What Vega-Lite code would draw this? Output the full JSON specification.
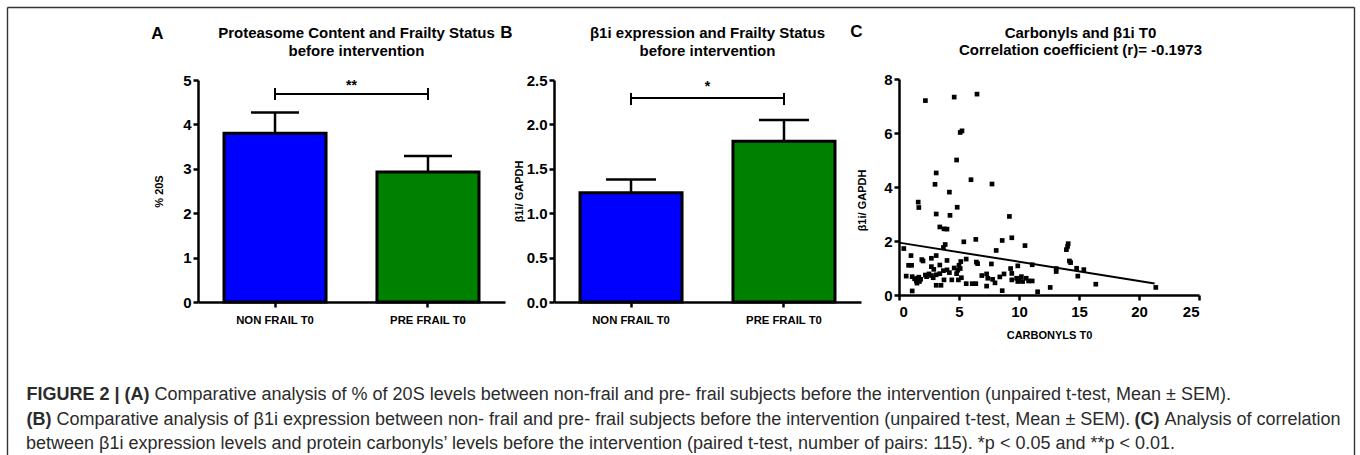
{
  "$schema": "https://vega.github.io/schema/vega-lite/v6.json",
  "width": 1360,
  "height": 455,
  "autosize": "none",
  "padding": 0,
  "background": "white",
  "config": {
    "view": {"stroke": null},
    "font": "Liberation Sans",
    "axis": {
      "grid": false,
      "domainColor": "black",
      "domainWidth": 2.5,
      "tickColor": "black",
      "tickWidth": 2.5,
      "tickSize": 5,
      "labelColor": "black",
      "labelFont": "Liberation Sans",
      "labelFontSize": 15,
      "labelFontWeight": "bold",
      "labelPadding": 2,
      "titleFont": "Liberation Sans",
      "titleColor": "black",
      "titleFontWeight": "bold",
      "titleFontSize": 11
    }
  },
  "title": {
    "text": "between β1i expression levels and protein carbonyls’ levels before the intervention (paired t-test, number of pairs: 115). *p < 0.05 and **p < 0.01.",
    "orient": "bottom",
    "anchor": "start",
    "frame": "group",
    "offset": -24,
    "dx": 26,
    "font": "Liberation Sans",
    "fontSize": 18,
    "fontWeight": "normal",
    "color": "#2b2b2b",
    "baseline": "top"
  },
  "datasets": {
    "frame": [{"v": 0}, {"v": 1}],
    "barsA": [
      {"group": "NON FRAIL T0", "mean": 3.8, "upper": 4.27},
      {"group": "PRE FRAIL T0", "mean": 2.93, "upper": 3.29}
    ],
    "barsB": [
      {"group": "NON FRAIL T0", "mean": 1.23, "upper": 1.38},
      {"group": "PRE FRAIL T0", "mean": 1.81, "upper": 2.05}
    ],
    "brA": [{"g1": "NON FRAIL T0", "g2": "PRE FRAIL T0", "y": 4.685, "lo": 4.55, "hi": 4.82, "star": "**", "sy": 4.78}],
    "brB": [{"g1": "NON FRAIL T0", "g2": "PRE FRAIL T0", "y": 2.297, "lo": 2.218, "hi": 2.354, "star": "*", "sy": 2.373}],
    "fit": [{"carbonyls": 0, "b1i": 1.94}, {"carbonyls": 21.3, "b1i": 0.43}],
    "scatter": [
      {"carbonyls": 2.2, "b1i": 7.2}, {"carbonyls": 4.6, "b1i": 7.33}, {"carbonyls": 6.5, "b1i": 7.44},
      {"carbonyls": 5.1, "b1i": 6.02}, {"carbonyls": 5.25, "b1i": 6.08}, {"carbonyls": 4.8, "b1i": 5.0},
      {"carbonyls": 3.1, "b1i": 4.52}, {"carbonyls": 3.0, "b1i": 4.1}, {"carbonyls": 6.0, "b1i": 4.27},
      {"carbonyls": 7.75, "b1i": 4.11}, {"carbonyls": 4.2, "b1i": 3.81}, {"carbonyls": 1.6, "b1i": 3.44},
      {"carbonyls": 1.65, "b1i": 3.24}, {"carbonyls": 4.85, "b1i": 3.25}, {"carbonyls": 3.1, "b1i": 3.0},
      {"carbonyls": 4.25, "b1i": 2.95}, {"carbonyls": 9.2, "b1i": 2.91}, {"carbonyls": 3.4, "b1i": 2.52},
      {"carbonyls": 3.75, "b1i": 2.45}, {"carbonyls": 4.0, "b1i": 2.44}, {"carbonyls": 9.4, "b1i": 2.12},
      {"carbonyls": 6.4, "b1i": 2.06}, {"carbonyls": 5.4, "b1i": 1.97}, {"carbonyls": 8.6, "b1i": 2.02},
      {"carbonyls": 10.5, "b1i": 1.83}, {"carbonyls": 0.4, "b1i": 1.72}, {"carbonyls": 3.85, "b1i": 1.87},
      {"carbonyls": 3.7, "b1i": 1.76}, {"carbonyls": 8.1, "b1i": 1.65}, {"carbonyls": 14.1, "b1i": 1.9},
      {"carbonyls": 14.05, "b1i": 1.8}, {"carbonyls": 13.95, "b1i": 1.68},
      {"carbonyls": 1.0, "b1i": 1.46}, {"carbonyls": 3.1, "b1i": 1.46}, {"carbonyls": 2.7, "b1i": 1.36},
      {"carbonyls": 2.0, "b1i": 1.26}, {"carbonyls": 1.9, "b1i": 1.31}, {"carbonyls": 0.8, "b1i": 1.1},
      {"carbonyls": 1.05, "b1i": 1.1}, {"carbonyls": 4.0, "b1i": 1.28}, {"carbonyls": 5.15, "b1i": 1.24},
      {"carbonyls": 5.6, "b1i": 1.33}, {"carbonyls": 6.45, "b1i": 1.22}, {"carbonyls": 6.55, "b1i": 1.16},
      {"carbonyls": 7.7, "b1i": 1.15}, {"carbonyls": 14.2, "b1i": 1.26}, {"carbonyls": 14.3, "b1i": 1.2},
      {"carbonyls": 11.1, "b1i": 1.12}, {"carbonyls": 9.9, "b1i": 1.08}, {"carbonyls": 9.3, "b1i": 0.98},
      {"carbonyls": 13.1, "b1i": 0.98}, {"carbonyls": 13.1, "b1i": 0.87}, {"carbonyls": 14.8, "b1i": 0.99},
      {"carbonyls": 15.4, "b1i": 0.94}, {"carbonyls": 2.7, "b1i": 1.05}, {"carbonyls": 3.4, "b1i": 1.11},
      {"carbonyls": 5.0, "b1i": 1.1}, {"carbonyls": 5.1, "b1i": 0.98}, {"carbonyls": 4.9, "b1i": 0.92},
      {"carbonyls": 3.7, "b1i": 0.9}, {"carbonyls": 4.0, "b1i": 0.93}, {"carbonyls": 2.9, "b1i": 0.95},
      {"carbonyls": 14.9, "b1i": 0.7}, {"carbonyls": 0.6, "b1i": 0.7}, {"carbonyls": 1.1, "b1i": 0.68},
      {"carbonyls": 1.3, "b1i": 0.6}, {"carbonyls": 1.45, "b1i": 0.52}, {"carbonyls": 1.55, "b1i": 0.62},
      {"carbonyls": 1.65, "b1i": 0.66}, {"carbonyls": 1.5, "b1i": 0.44}, {"carbonyls": 1.7, "b1i": 0.5},
      {"carbonyls": 1.8, "b1i": 0.58}, {"carbonyls": 2.3, "b1i": 0.68}, {"carbonyls": 2.7, "b1i": 0.72},
      {"carbonyls": 2.85, "b1i": 0.64}, {"carbonyls": 3.1, "b1i": 0.75}, {"carbonyls": 3.4, "b1i": 0.79},
      {"carbonyls": 4.2, "b1i": 0.83}, {"carbonyls": 3.75, "b1i": 0.56}, {"carbonyls": 4.4, "b1i": 0.56},
      {"carbonyls": 3.1, "b1i": 0.36}, {"carbonyls": 3.5, "b1i": 0.36}, {"carbonyls": 4.8, "b1i": 0.79},
      {"carbonyls": 5.2, "b1i": 0.64}, {"carbonyls": 4.95, "b1i": 0.56}, {"carbonyls": 5.6, "b1i": 0.42},
      {"carbonyls": 6.1, "b1i": 0.42}, {"carbonyls": 6.4, "b1i": 0.42}, {"carbonyls": 7.3, "b1i": 0.78},
      {"carbonyls": 7.4, "b1i": 0.62}, {"carbonyls": 7.3, "b1i": 0.33}, {"carbonyls": 1.1, "b1i": 0.15},
      {"carbonyls": 8.75, "b1i": 0.78}, {"carbonyls": 9.4, "b1i": 0.8}, {"carbonyls": 8.4, "b1i": 0.67},
      {"carbonyls": 9.8, "b1i": 0.62}, {"carbonyls": 10.0, "b1i": 0.55}, {"carbonyls": 10.3, "b1i": 0.5},
      {"carbonyls": 10.6, "b1i": 0.62}, {"carbonyls": 10.8, "b1i": 0.52}, {"carbonyls": 10.2, "b1i": 0.68},
      {"carbonyls": 9.9, "b1i": 0.5}, {"carbonyls": 9.4, "b1i": 0.56}, {"carbonyls": 11.1, "b1i": 0.52},
      {"carbonyls": 16.4, "b1i": 0.4}, {"carbonyls": 12.6, "b1i": 0.28}, {"carbonyls": 11.55, "b1i": 0.12},
      {"carbonyls": 8.6, "b1i": 0.16}, {"carbonyls": 21.4, "b1i": 0.28}, {"carbonyls": 7.8, "b1i": 0.58},
      {"carbonyls": 8.0, "b1i": 0.45}, {"carbonyls": 6.9, "b1i": 0.72}, {"carbonyls": 2.2, "b1i": 0.74},
      {"carbonyls": 2.5, "b1i": 0.78}, {"carbonyls": 4.6, "b1i": 1.0}
    ]
  },
  "layer": [
    {
      "data": {"name": "frame"},
      "mark": {"type": "point", "opacity": 0},
      "encoding": {
        "x": {"field": "v", "type": "quantitative", "scale": {"domain": [0, 1], "range": [7, 1354]},
          "axis": {"orient": "top", "offset": -7, "domainColor": "#333333", "domainWidth": 1.4, "ticks": false, "labels": false,
            "title": "Comparative analysis of % of 20S levels between non-frail and pre- frail subjects before the intervention (unpaired t-test, Mean ± SEM).",
            "titleX": 154, "titleY": 378, "titleAlign": "left", "titleBaseline": "top",
            "titleFontSize": 18, "titleFontWeight": "normal", "titleColor": "#2b2b2b"}},
        "y": {"field": "v", "type": "quantitative", "scale": {"domain": [0, 1], "range": [456, 7]},
          "axis": {"orient": "left", "offset": -7, "domainColor": "#333333", "domainWidth": 1.4, "ticks": false, "labels": false,
            "title": "Comparative analysis of β1i expression between non- frail and pre- frail subjects before the intervention (unpaired t-test, Mean ± SEM).",
            "titleAngle": 0, "titleX": 49, "titleY": 410.5, "titleAlign": "left", "titleBaseline": "top",
            "titleFontSize": 18, "titleFontWeight": "normal", "titleColor": "#2b2b2b"}}
      }
    },
    {
      "data": {"name": "frame"},
      "mark": {"type": "point", "opacity": 0},
      "encoding": {
        "x": {"field": "v", "type": "quantitative", "scale": {"domain": [0, 1], "range": [7, 1354]},
          "axis": {"orient": "bottom", "offset": 0, "domain": false, "ticks": false, "labels": false,
            "title": ["FIGURE 2 | (A)", "(B)"], "titleX": 26, "titleY": -70, "titleAlign": "left", "titleBaseline": "top",
            "titleFontSize": 18, "titleFontWeight": "bold", "titleColor": "#2b2b2b", "titleLineHeight": 25.5}},
        "y": {"field": "v", "type": "quantitative", "scale": {"domain": [0, 1], "range": [456, 7]},
          "axis": {"orient": "right", "offset": -6, "domainColor": "#333333", "domainWidth": 1.4, "ticks": false, "labels": false, "title": null}}
      }
    },
    {
      "data": {"name": "frame"},
      "mark": {"type": "point", "opacity": 0},
      "encoding": {
        "x": {"field": "v", "type": "quantitative", "scale": {"domain": [0, 1], "range": [7, 1354]},
          "axis": {"orient": "bottom", "offset": 0, "domain": false, "ticks": false, "labels": false,
            "title": "(C)", "titleX": 1134, "titleY": -44.5, "titleAlign": "left", "titleBaseline": "top",
            "titleFontSize": 18, "titleFontWeight": "bold", "titleColor": "#2b2b2b"}},
        "y": {"field": "v", "type": "quantitative", "scale": {"domain": [0, 1], "range": [456, 7]},
          "axis": {"orient": "left", "offset": 0, "domain": false, "ticks": false, "labels": false,
            "title": "Analysis of correlation", "titleAngle": 0, "titleX": 1164, "titleY": 410.5, "titleAlign": "left", "titleBaseline": "top",
            "titleFontSize": 18, "titleFontWeight": "normal", "titleColor": "#2b2b2b"}}
      }
    },
    {
      "data": {"name": "frame"},
      "mark": {"type": "point", "opacity": 0},
      "encoding": {
        "x": {"field": "v", "type": "quantitative", "scale": {"domain": [0, 1], "range": [198, 505]},
          "axis": {"orient": "top", "offset": 0, "domain": false, "ticks": false, "labels": false,
            "title": ["Proteasome Content and Frailty Status", "before intervention"],
            "titleX": 356, "titleY": 37.5, "titleAlign": "center", "titleBaseline": "alphabetic",
            "titleFontSize": 15, "titleLineHeight": 17.5}},
        "y": {"field": "v", "type": "quantitative", "scale": {"domain": [0, 1], "range": [302, 80]},
          "axis": {"orient": "left", "offset": 0, "domain": false, "ticks": false, "labels": false,
            "title": "A", "titleAngle": 0, "titleX": 157, "titleY": 38.3, "titleAlign": "center", "titleBaseline": "alphabetic",
            "titleFontSize": 17}}
      }
    },
    {
      "data": {"name": "frame"},
      "mark": {"type": "point", "opacity": 0},
      "encoding": {
        "x": {"field": "v", "type": "quantitative", "scale": {"domain": [0, 1], "range": [554, 861]},
          "axis": {"orient": "top", "offset": 0, "domain": false, "ticks": false, "labels": false,
            "title": ["β1i expression and Frailty Status", "before intervention"],
            "titleX": 707, "titleY": 37.5, "titleAlign": "center", "titleBaseline": "alphabetic",
            "titleFontSize": 15, "titleLineHeight": 17.5}},
        "y": {"field": "v", "type": "quantitative", "scale": {"domain": [0, 1], "range": [302, 80]},
          "axis": {"orient": "left", "offset": 0, "domain": false, "ticks": false, "labels": false,
            "title": "B", "titleAngle": 0, "titleX": 506, "titleY": 37.5, "titleAlign": "center", "titleBaseline": "alphabetic",
            "titleFontSize": 17}}
      }
    },
    {
      "data": {"name": "frame"},
      "mark": {"type": "point", "opacity": 0},
      "encoding": {
        "x": {"field": "v", "type": "quantitative", "scale": {"domain": [0, 1], "range": [899, 1199]},
          "axis": {"orient": "top", "offset": 0, "domain": false, "ticks": false, "labels": false,
            "title": ["Carbonyls and β1i T0", "Correlation coefficient (r)= -0.1973"],
            "titleX": 1080, "titleY": 37.3, "titleAlign": "center", "titleBaseline": "alphabetic",
            "titleFontSize": 15, "titleLineHeight": 17}},
        "y": {"field": "v", "type": "quantitative", "scale": {"domain": [0, 1], "range": [295, 79]},
          "axis": {"orient": "left", "offset": 0, "domain": false, "ticks": false, "labels": false,
            "title": "C", "titleAngle": 0, "titleX": 856, "titleY": 36, "titleAlign": "center", "titleBaseline": "alphabetic",
            "titleFontSize": 17}}
      }
    },
    {
      "layer": [
        {
          "data": {"name": "barsA"},
          "mark": {"type": "bar", "stroke": "black", "strokeWidth": 3},
          "encoding": {
            "x": {"field": "group", "type": "nominal",
              "scale": {"type": "band", "domain": ["NON FRAIL T0", "PRE FRAIL T0"], "range": [198, 505], "paddingInner": 0.333, "paddingOuter": 0.17},
              "axis": {"orient": "bottom", "offset": -153, "labelAngle": 0, "labelFontSize": 11.3, "labelPadding": 7, "title": null}},
            "y": {"field": "mean", "type": "quantitative",
              "scale": {"domain": [0, 5], "range": [302, 80], "nice": false},
              "axis": {"orient": "left", "offset": -198, "values": [0, 1, 2, 3, 4, 5], "format": "d", "title": "% 20S", "titlePadding": 18}},
            "color": {"field": "group", "type": "nominal", "scale": {"domain": ["NON FRAIL T0", "PRE FRAIL T0"], "range": ["#0000FF", "#008000"]}, "legend": null}
          }
        },
        {
          "data": {"name": "barsA"},
          "mark": {"type": "rule", "strokeWidth": 2.5, "color": "black"},
          "encoding": {
            "x": {"field": "group", "type": "nominal", "bandPosition": 0.5},
            "y": {"field": "mean", "type": "quantitative"},
            "y2": {"field": "upper"}
          }
        },
        {
          "data": {"name": "barsA"},
          "mark": {"type": "tick", "size": 48, "thickness": 2.5, "color": "black", "opacity": 1},
          "encoding": {
            "x": {"field": "group", "type": "nominal"},
            "y": {"field": "upper", "type": "quantitative"}
          }
        },
        {
          "data": {"name": "brA"},
          "mark": {"type": "rule", "strokeWidth": 2, "color": "black"},
          "encoding": {
            "x": {"field": "g1", "type": "nominal", "bandPosition": 0.5},
            "x2": {"field": "g2", "bandPosition": 0.5},
            "y": {"field": "y", "type": "quantitative"}
          }
        },
        {
          "data": {"name": "brA"},
          "mark": {"type": "rule", "strokeWidth": 2, "color": "black"},
          "encoding": {
            "x": {"field": "g1", "type": "nominal", "bandPosition": 0.5},
            "y": {"field": "lo", "type": "quantitative"},
            "y2": {"field": "hi"}
          }
        },
        {
          "data": {"name": "brA"},
          "mark": {"type": "rule", "strokeWidth": 2, "color": "black"},
          "encoding": {
            "x": {"field": "g2", "type": "nominal", "bandPosition": 0.5},
            "y": {"field": "lo", "type": "quantitative"},
            "y2": {"field": "hi"}
          }
        },
        {
          "data": {"name": "brA"},
          "mark": {"type": "text", "fontSize": 14, "fontWeight": "bold", "font": "Liberation Sans", "color": "black", "baseline": "alphabetic", "align": "center"},
          "encoding": {
            "x": {"field": "g1", "type": "nominal", "bandPosition": 1.25},
            "y": {"field": "sy", "type": "quantitative"},
            "text": {"field": "star"}
          }
        }
      ]
    },
    {
      "layer": [
        {
          "data": {"name": "barsB"},
          "mark": {"type": "bar", "stroke": "black", "strokeWidth": 3},
          "encoding": {
            "x": {"field": "group", "type": "nominal",
              "scale": {"type": "band", "domain": ["NON FRAIL T0", "PRE FRAIL T0"], "range": [554, 861], "paddingInner": 0.333, "paddingOuter": 0.17},
              "axis": {"orient": "bottom", "offset": -153, "labelAngle": 0, "labelFontSize": 11.3, "labelPadding": 7, "title": null}},
            "y": {"field": "mean", "type": "quantitative",
              "scale": {"domain": [0, 2.5], "range": [302, 80], "nice": false},
              "axis": {"orient": "left", "offset": -554, "values": [0, 0.5, 1, 1.5, 2, 2.5], "format": ".1f", "title": "β1i/ GAPDH", "titlePadding": 2}},
            "color": {"field": "group", "type": "nominal", "scale": {"domain": ["NON FRAIL T0", "PRE FRAIL T0"], "range": ["#0000FF", "#008000"]}, "legend": null}
          }
        },
        {
          "data": {"name": "barsB"},
          "mark": {"type": "rule", "strokeWidth": 2.5, "color": "black"},
          "encoding": {
            "x": {"field": "group", "type": "nominal", "bandPosition": 0.5},
            "y": {"field": "mean", "type": "quantitative"},
            "y2": {"field": "upper"}
          }
        },
        {
          "data": {"name": "barsB"},
          "mark": {"type": "tick", "size": 50, "thickness": 2.5, "color": "black", "opacity": 1},
          "encoding": {
            "x": {"field": "group", "type": "nominal"},
            "y": {"field": "upper", "type": "quantitative"}
          }
        },
        {
          "data": {"name": "brB"},
          "mark": {"type": "rule", "strokeWidth": 2, "color": "black"},
          "encoding": {
            "x": {"field": "g1", "type": "nominal", "bandPosition": 0.5},
            "x2": {"field": "g2", "bandPosition": 0.5},
            "y": {"field": "y", "type": "quantitative"}
          }
        },
        {
          "data": {"name": "brB"},
          "mark": {"type": "rule", "strokeWidth": 2, "color": "black"},
          "encoding": {
            "x": {"field": "g1", "type": "nominal", "bandPosition": 0.5},
            "y": {"field": "lo", "type": "quantitative"},
            "y2": {"field": "hi"}
          }
        },
        {
          "data": {"name": "brB"},
          "mark": {"type": "rule", "strokeWidth": 2, "color": "black"},
          "encoding": {
            "x": {"field": "g2", "type": "nominal", "bandPosition": 0.5},
            "y": {"field": "lo", "type": "quantitative"},
            "y2": {"field": "hi"}
          }
        },
        {
          "data": {"name": "brB"},
          "mark": {"type": "text", "fontSize": 14, "fontWeight": "bold", "font": "Liberation Sans", "color": "black", "baseline": "alphabetic", "align": "center"},
          "encoding": {
            "x": {"field": "g1", "type": "nominal", "bandPosition": 1.25},
            "y": {"field": "sy", "type": "quantitative"},
            "text": {"field": "star"}
          }
        }
      ]
    },
    {
      "layer": [
        {
          "data": {"name": "scatter"},
          "mark": {"type": "square", "size": 22, "color": "black", "opacity": 1},
          "encoding": {
            "x": {"field": "carbonyls", "type": "quantitative",
              "scale": {"domain": [0, 25], "range": [899, 1199], "nice": false},
              "axis": {"orient": "bottom", "offset": -160, "values": [0, 5, 10, 15, 20, 25], "format": "d", "title": "CARBONYLS T0", "titlePadding": 10, "labelPadding": 4}},
            "y": {"field": "b1i", "type": "quantitative",
              "scale": {"domain": [0, 8], "range": [295, 79], "nice": false},
              "axis": {"orient": "left", "offset": -899, "values": [0, 2, 4, 6, 8], "format": "d", "title": "β1i/ GAPDH", "titlePadding": 16, "titleY": 200}}
          }
        },
        {
          "data": {"name": "fit"},
          "mark": {"type": "line", "color": "black", "strokeWidth": 2},
          "encoding": {
            "x": {"field": "carbonyls", "type": "quantitative"},
            "y": {"field": "b1i", "type": "quantitative"}
          }
        }
      ]
    }
  ],
  "resolve": {
    "scale": {"x": "independent", "y": "independent"},
    "axis": {"x": "independent", "y": "independent"}
  }
}
